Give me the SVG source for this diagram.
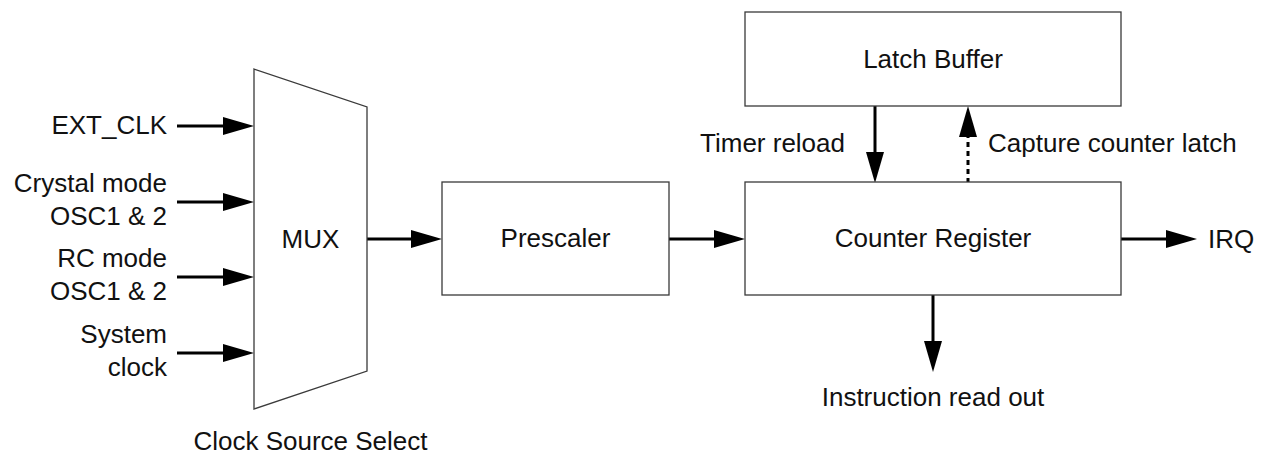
<svg xmlns="http://www.w3.org/2000/svg" width="1268" height="457" viewBox="0 0 1268 457">
<defs>
<style>
.box{fill:#fff;stroke:#3a3a3a;stroke-width:1.3}
.t{font-family:"Liberation Sans",Arial,sans-serif;font-size:26px;fill:#111}
.c{text-anchor:middle}
.e{text-anchor:end}
.w{stroke:#000;stroke-width:3;fill:none}
.d{stroke-dasharray:5,4}
</style>
<marker id="ah" viewBox="0 0 31 18" refX="5" refY="9" markerWidth="31" markerHeight="18" markerUnits="userSpaceOnUse" orient="auto">
<path d="M0,0 L31,9 L0,18 z" fill="#000"/>
</marker>
</defs>
<rect width="1268" height="457" fill="#fff"/>
<g id="connectors">
<line class="w" x1="177" y1="126" x2="228" y2="126" marker-end="url(#ah)"/>
<line class="w" x1="177" y1="202" x2="228" y2="202" marker-end="url(#ah)"/>
<line class="w" x1="177" y1="277" x2="228" y2="277" marker-end="url(#ah)"/>
<line class="w" x1="177" y1="353" x2="228" y2="353" marker-end="url(#ah)"/>
<line class="w" x1="367" y1="239" x2="416" y2="239" marker-end="url(#ah)"/>
<line class="w" x1="669" y1="239" x2="719" y2="239" marker-end="url(#ah)"/>
<line class="w" x1="1121" y1="239" x2="1171" y2="239" marker-end="url(#ah)"/>
<line class="w" x1="933" y1="295" x2="933" y2="346" marker-end="url(#ah)"/>
<line class="w" x1="875" y1="106" x2="875" y2="157" marker-end="url(#ah)"/>
<line class="w d" x1="968" y1="183" x2="968" y2="132" marker-end="url(#ah)"/>
</g>
<g id="mux">
<polygon class="box" points="254,69 367,107 367,371 254,409"/>
<text class="t c" x="310.5" y="248">MUX</text>
</g>
<g id="prescaler">
<rect class="box" x="442" y="182" width="227" height="113"/>
<text class="t c" x="555.5" y="247">Prescaler</text>
</g>
<g id="counter">
<rect class="box" x="745" y="182" width="376" height="113"/>
<text class="t c" x="933" y="247">Counter Register</text>
</g>
<g id="latch">
<rect class="box" x="745" y="12" width="376" height="94"/>
<text class="t c" x="933" y="68">Latch Buffer</text>
</g>
<g id="labels">
<text class="t e" x="167" y="134">EXT_CLK</text>
<text class="t e" x="167" y="192">Crystal mode</text>
<text class="t e" x="167" y="225">OSC1 &amp; 2</text>
<text class="t e" x="167" y="267">RC mode</text>
<text class="t e" x="167" y="300">OSC1 &amp; 2</text>
<text class="t e" x="167" y="343">System</text>
<text class="t e" x="167" y="376">clock</text>
<text class="t c" x="310.5" y="450">Clock Source Select</text>
<text class="t e" x="845" y="152">Timer reload</text>
<text class="t" x="988" y="152">Capture counter latch</text>
<text class="t" x="1208" y="248">IRQ</text>
<text class="t c" x="933" y="406">Instruction read out</text>
</g>
</svg>
